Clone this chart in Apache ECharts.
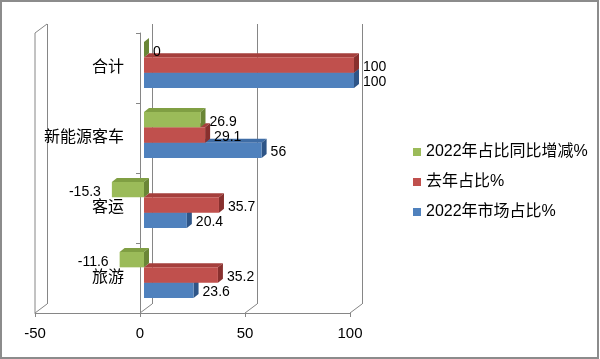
<!DOCTYPE html>
<html>
<head>
<meta charset="utf-8">
<script src="https://cdn.jsdelivr.net/npm/echarts@6/dist/echarts.min.js"></script>
<style>html,body{margin:0;padding:0;background:#fff;}#c{width:600px;height:359px;}</style>
</head>
<body>
<div id="c"></div>
<script>
const categories = ['旅游', '客运', '新能源客车', '合计'];
const seriesNames = ['2022年市场占比%', '去年占比%', '2022年占比同比增减%'];
const share2022 = [23.6, 20.4, 56, 100];
const shareLastYear = [35.2, 35.7, 29.1, 100];
const shareChange = [-11.6, -15.3, 26.9, 0];
const xTicks = [-50, 0, 50, 100];

const FONT = '"Liberation Sans", "Noto Sans CJK SC", sans-serif';
const GRID_LINE = '#868686';
const WALL_DX = 12, WALL_DY = -9;
const BAR_DX = 4, BAR_DY = -3;
const DEP_X = 5, DEP_Y = -4;

const palettes = [
  { front: '#4F81BD', top: '#3F6DA6', side: '#2E5587' },
  { front: '#C0504D', top: '#A53F3C', side: '#88302E' },
  { front: '#9BBB59', top: '#809F43', side: '#6A8636' }
];

function makeBarRender(si) {
  const pal = palettes[si];
  return function (params, api) {
    const val = api.value(0), cat = api.value(1);
    const p0 = api.coord([0, cat]);
    const p1 = api.coord([val, cat]);
    const band = api.size([0, 1])[1];
    const h = band * 0.219;
    const cy = p0[1] + BAR_DY;
    const top = cy + 0.5 * h - si * h;
    const xa = Math.min(p0[0], p1[0]) + BAR_DX;
    const xb = Math.max(p0[0], p1[0]) + BAR_DX;
    const children = [
      { type: 'polygon', shape: { points: [[xa, top], [xb, top], [xb + DEP_X, top + DEP_Y], [xa + DEP_X, top + DEP_Y]] },
        style: { fill: pal.top } },
      { type: 'polygon', shape: { points: [[xb, top], [xb + DEP_X, top + DEP_Y], [xb + DEP_X, top + h + DEP_Y], [xb, top + h]] },
        style: { fill: pal.side } },
      { type: 'rect', shape: { x: xa, y: top, width: xb - xa, height: h },
        style: { fill: pal.front } }
    ];
    const label = String(val);
    if (val >= 0) {
      children.push({ type: 'text', style: { text: label, x: xb + DEP_X + 4, y: top + h / 2 + 2,
        align: 'left', verticalAlign: 'middle', fill: '#000', font: '14px ' + FONT } });
    } else {
      children.push({ type: 'text', style: { text: label, x: xa - 11, y: top + h / 2 + 2,
        align: 'right', verticalAlign: 'middle', fill: '#000', font: '14px ' + FONT } });
    }
    return { type: 'group', children: children };
  };
}

function wallRender(params, api) {
  const v = api.value(0);
  const cs = params.coordSys;
  const x = api.coord([v, 0])[0];
  const bottom = cs.y + cs.height;
  const topY = cs.y;
  const st = { stroke: GRID_LINE, lineWidth: 1 };
  const children = [
    { type: 'line', shape: { x1: x, y1: bottom, x2: x + WALL_DX, y2: bottom + WALL_DY }, style: st }
  ];
  if (v === xTicks[0]) {
    children.push({ type: 'line', shape: { x1: x, y1: topY, x2: x + WALL_DX, y2: topY + WALL_DY }, style: st });
    children.push({ type: 'line', shape: { x1: x, y1: topY, x2: x, y2: bottom }, style: st });
  }
  return { type: 'group', children: children };
}

const chart = echarts.init(document.getElementById('c'), null, { renderer: 'canvas' });

const option = {
  animation: false,
  backgroundColor: '#fff',
  textStyle: { fontFamily: FONT },
  graphic: [{
    type: 'rect', z: 100, silent: true,
    shape: { x: 1, y: 1, width: 597, height: 357 },
    style: { fill: null, stroke: '#8c8c8c', lineWidth: 2 }
  }],
  legend: {
    orient: 'vertical', left: 408, top: 139,
    itemWidth: 8, itemHeight: 8, itemGap: 14, icon: 'rect',
    data: [seriesNames[2], seriesNames[1], seriesNames[0]],
    textStyle: { fontSize: 16, color: '#000', fontFamily: FONT }
  },
  grid: [
    { left: 35, top: 33, width: 315, height: 280, containLabel: false, outerBoundsMode: 'none' },
    { left: 35 + WALL_DX, top: 33 + WALL_DY, width: 315, height: 280, containLabel: false, outerBoundsMode: 'none' }
  ],
  xAxis: [
    { type: 'value', gridIndex: 0, min: -50, max: 100, interval: 50,
      axisLine: { show: true, lineStyle: { color: GRID_LINE } },
      axisTick: { show: true, length: 4, lineStyle: { color: GRID_LINE } },
      axisLabel: { fontSize: 15, color: '#000', margin: 13, fontFamily: FONT },
      splitLine: { show: false } },
    { type: 'value', gridIndex: 1, min: -50, max: 100, interval: 50,
      axisLine: { show: false }, axisTick: { show: false }, axisLabel: { show: false },
      splitLine: { show: true, lineStyle: { color: GRID_LINE } } }
  ],
  yAxis: [
    { type: 'category', gridIndex: 0, data: categories,
      axisLine: { show: true, onZero: true, lineStyle: { color: GRID_LINE } },
      axisTick: { show: true, length: 4, lineStyle: { color: GRID_LINE } },
      axisLabel: { fontSize: 16, color: '#000', margin: -89, fontFamily: FONT },
      splitLine: { show: false } },
    { type: 'category', gridIndex: 1, data: categories, show: false }
  ],
  series: [
    { type: 'custom', name: '_wall', xAxisIndex: 0, yAxisIndex: 0, silent: true, z: 1,
      renderItem: wallRender, data: xTicks.map(v => [v, 0]) },
    { type: 'custom', name: seriesNames[0], xAxisIndex: 0, yAxisIndex: 0, z: 3,
      itemStyle: { color: palettes[0].front },
      renderItem: makeBarRender(0), data: share2022.map((v, i) => [v, i]) },
    { type: 'custom', name: seriesNames[1], xAxisIndex: 0, yAxisIndex: 0, z: 3,
      itemStyle: { color: palettes[1].front },
      renderItem: makeBarRender(1), data: shareLastYear.map((v, i) => [v, i]) },
    { type: 'custom', name: seriesNames[2], xAxisIndex: 0, yAxisIndex: 0, z: 3,
      itemStyle: { color: palettes[2].front },
      renderItem: makeBarRender(2), data: shareChange.map((v, i) => [v, i]) }
  ]
};
chart.setOption(option);
</script>
</body>
</html>
